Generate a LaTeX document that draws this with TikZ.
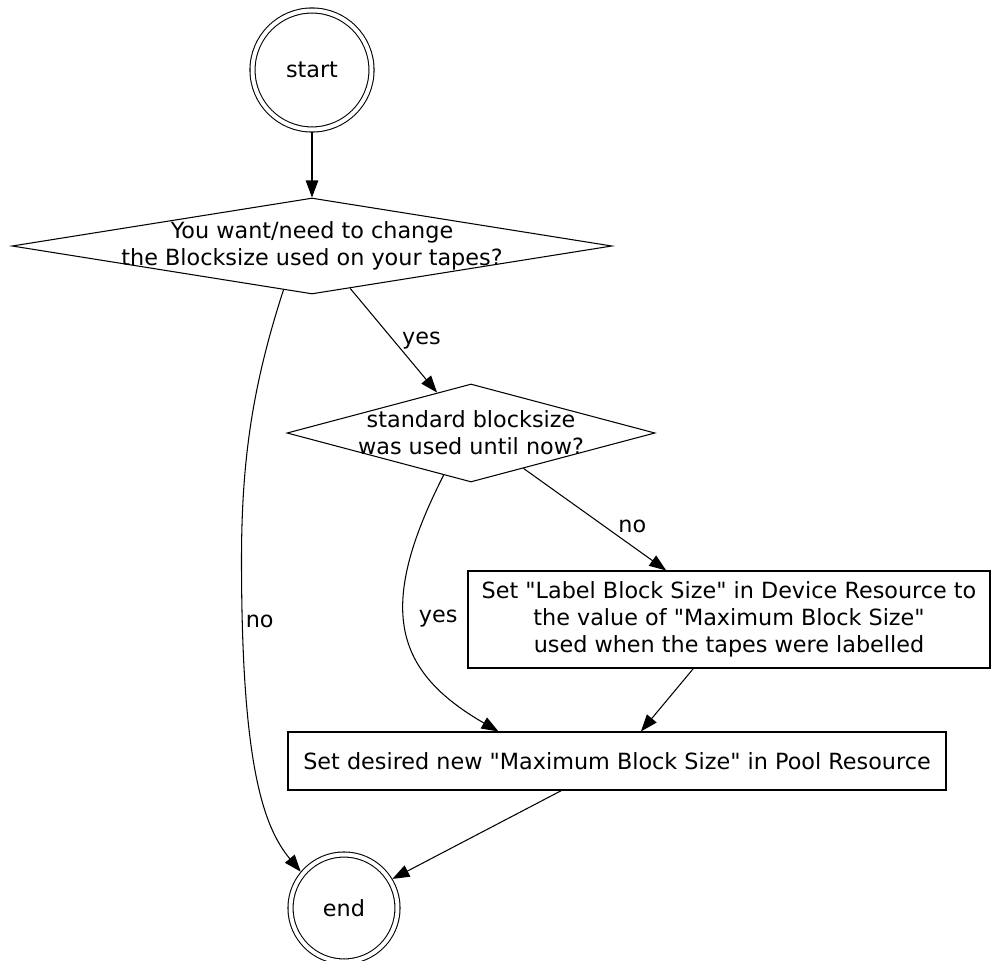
\documentclass[tikz,border=0pt]{standalone}
\usepackage{fontspec}
\setmainfont{DejaVu Sans}
\usetikzlibrary{shapes, arrows.meta, positioning}

\begin{document}
\begin{tikzpicture}[
  line width=0.6pt,
  font=\fontsize{12.7}{15.4}\selectfont,
  state/.style={circle, draw, double, double distance=0.08cm, outer sep=0.06cm, inner sep=0pt},
  test/.style={diamond, draw, inner xsep=-1.5cm, inner ysep=0pt, align=center},
  action/.style={rectangle, draw, inner sep=0pt, align=center},
  arr/.style={-{Triangle[length=0.34cm, width=0.25cm]}},
  lbl/.style={inner sep=0pt}
]
\useasboundingbox (0,0) rectangle (19.84,-19.2);

\draw
  (6.24,-1.40) node[state, minimum size=2.38cm] (start) {start}
  (6.24,-4.92) node[test, aspect=6.25, minimum width=12cm, minimum height=1.92cm] (ask)
    {You want/need to change\\the Blocksize used on your tapes?}
  (9.42,-8.66) node[test, aspect=3.75, minimum width=7.36cm, minimum height=1.96cm] (check)
    {standard blocksize\\was used until now?}
  (14.58,-12.39) node[action, minimum width=10.44cm, minimum height=1.94cm] (relabel)
    {Set \textquotedbl Label Block Size\textquotedbl{} in Device Resource to\\the value of \textquotedbl Maximum Block Size\textquotedbl\\used when the tapes were labelled}
  (12.34,-15.22) node[action, minimum width=13.16cm, minimum height=1.16cm] (setmax)
    {Set desired new \textquotedbl Maximum Block Size\textquotedbl{} in Pool Resource}
  (6.88,-18.16) node[state, minimum size=2.14cm] (finish) {end};

% edges
\draw[arr] (start) -- (ask);
\draw[arr] (ask.-123.4) .. controls +(-108:2) and +(0,2) .. (4.83,-11.2)
  .. controls +(0,-4) and +(130:1.2) .. (finish.140)
  node[lbl, pos=0.11, right=0.06cm] {no};
\draw[arr] (ask.-48.5) -- (check.130) node[lbl, midway, right=0.16cm] {yes};
\draw[arr] (check.-34.7) -- (relabel.142) node[lbl, pos=0.57, right=0.26cm] {no};
\draw[arr] (check.-123.7) .. controls +(-117:3) and +(150:2.4) .. (setmax.166.6)
  node[lbl, pos=0.45, right=0.28cm] {yes};
\draw[arr] (relabel.-126.6) -- (setmax.51.6);
\draw[arr] (setmax.-152.2) -- (finish.31.5);
\end{tikzpicture}
\end{document}
